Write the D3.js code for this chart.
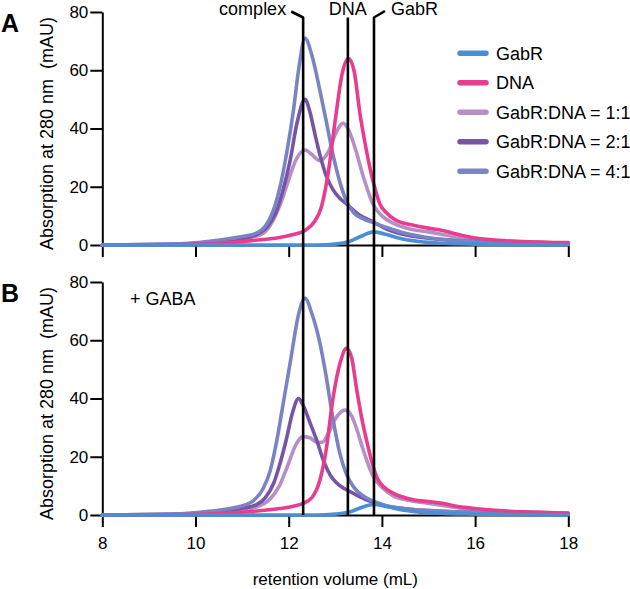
<!DOCTYPE html>
<html><head><meta charset="utf-8">
<script src="https://cdn.jsdelivr.net/npm/d3@7"></script>
<style>
body{margin:0;background:#fff}
text{font-family:"Liberation Sans",Arial,Helvetica,sans-serif;fill:#000}
</style>
</head><body>
<svg id="chart" width="630" height="589"></svg>
<script>
// ---------------- data ----------------
const xTicks = [8, 10, 12, 14, 16, 18];
const yTicks = [0, 20, 40, 60, 80];
const seriesNames = ["GabR", "DNA", "GabR:DNA = 1:1", "GabR:DNA = 2:1", "GabR:DNA = 4:1"];
const seriesColors = ["#4A8FD4", "#E83C8E", "#B68FC6", "#7754A5", "#7A84C4"];
const markerLabels = ["complex", "DNA", "GabR"];
const markerVolumes = [12.31, 13.27, 13.83];
const panelLetters = ["A", "B"];
const panelNotes = ["", "+ GABA"];

// panel A (no GABA): [retention volume mL, absorption mAU]
const gabrA = [[8,0],[12.6,0],[13.0,0.3],[13.3,1.2],[13.55,3],[13.83,4.5],[14.1,3.6],[14.4,2.2],[14.8,1.2],[15.3,0.6],[16,0.3],[17,0.15],[18,0.1]];
const dnaA = [[8,0],[9.5,0.1],[10.5,0.6],[11.2,1.5],[11.8,2.6],[12.1,3.6],[12.35,5],[12.55,8],[12.7,13],[12.85,25],[13.0,43],[13.15,59],[13.28,64],[13.4,60],[13.53,45],[13.65,34],[13.75,26],[13.85,19.5],[13.96,14],[14.1,11],[14.3,8.5],[14.6,7],[15.0,5.8],[15.3,5],[15.6,3.8],[16.0,2.4],[16.5,1.6],[17,1.2],[18,0.8]];
const r11A = [[8,0],[9.5,0.2],[10.3,0.8],[11.0,2],[11.45,4],[11.65,8],[11.82,14],[11.97,21],[12.15,29],[12.35,32.6],[12.5,31],[12.67,29],[12.85,32],[13.0,38],[13.17,41.8],[13.3,39],[13.45,32],[13.6,23.5],[13.81,14],[14.0,10],[14.24,7.5],[14.6,5.5],[15,4.5],[15.5,3],[16,1.8],[17,1],[18,0.6]];
const r21A = [[8,0],[9.5,0.2],[10.3,1],[11.0,2.2],[11.3,3.5],[11.55,6.5],[11.72,11],[11.88,19],[12.03,29],[12.18,42],[12.35,50],[12.45,46],[12.55,39],[12.67,31],[12.8,24],[12.95,19],[13.1,16],[13.25,14],[13.5,10.5],[13.8,8],[14.1,5.5],[14.5,3.5],[15,2.3],[16,1.2],[17,0.7],[18,0.5]];
const r41A = [[8,0],[9.5,0.3],[10.3,1.3],[11.0,2.9],[11.3,4],[11.5,6.5],[11.65,11],[11.8,19],[11.95,31],[12.1,46],[12.22,61],[12.35,71],[12.5,65],[12.67,53],[12.8,43],[12.95,31],[13.1,21.5],[13.24,15],[13.4,11],[13.6,9],[13.85,7.5],[14.1,6],[14.5,4],[15,2.5],[16,1.2],[17,0.7],[18,0.5]];

// panel B (+ GABA)
const gabrB = [[8,0],[12.6,0],[13.0,0.3],[13.3,1],[13.55,2.5],[13.82,3.6],[14.1,2.9],[14.4,1.8],[14.8,1],[15.3,0.5],[16,0.3],[17,0.15],[18,0.1]];
const dnaB = [[8,0],[9.5,0.1],[10.5,0.5],[11.2,1.2],[11.8,2.2],[12.1,3],[12.31,4],[12.5,6],[12.67,12],[12.8,22],[12.95,40],[13.1,52],[13.24,57.2],[13.35,54],[13.46,43],[13.57,33],[13.67,25.7],[13.78,18.5],[13.89,13],[14.05,9.5],[14.25,7.4],[14.67,5.2],[15.0,4.6],[15.3,4],[15.6,3],[15.9,2.4],[16.5,1.5],[17,1.1],[18,0.7]];
const r11B = [[8,0],[9.5,0.2],[10.3,0.8],[11.0,1.8],[11.35,3],[11.6,5.5],[11.8,10],[11.98,17],[12.15,24],[12.31,26.9],[12.45,26.5],[12.6,25],[12.72,25],[12.85,28],[13.0,33],[13.21,36],[13.35,34],[13.47,29],[13.6,22.3],[13.82,13],[14.0,9.5],[14.25,6.5],[14.6,5],[15,4],[15.5,2.8],[16,1.8],[17,1],[18,0.6]];
const r21B = [[8,0],[9.5,0.2],[10.3,1],[11.0,2.3],[11.3,3.5],[11.5,6],[11.68,11],[11.82,18],[11.95,26],[12.08,35],[12.21,40],[12.3,38],[12.45,32],[12.6,25.7],[12.75,18.5],[12.9,13.5],[13.03,11],[13.2,9],[13.39,7.4],[13.7,5],[14.1,3],[14.6,2],[15,1.5],[16,0.8],[17,0.5],[18,0.4]];
const r41B = [[8,0],[9.5,0.3],[10.3,1.3],[10.95,2.9],[11.25,5],[11.45,9],[11.6,15],[11.75,26],[11.9,40],[12.05,54],[12.2,68],[12.35,74.4],[12.5,69],[12.67,59],[12.8,48],[12.95,33],[13.1,21],[13.24,14],[13.4,9.5],[13.6,6.5],[13.85,4.5],[14.1,3.2],[14.6,2],[15,1.5],[16,0.8],[17,0.5],[18,0.4]];

const panelSeries = [
  [gabrA, dnaA, r11A, r21A, r41A],
  [gabrB, dnaB, r11B, r21B, r41B]
];
const drawOrder = [2, 3, 4, 1, 0];

// ---------------- layout ----------------
const svg = d3.select("#chart");
const x = d3.scaleLinear().domain([8, 18]).range([102.3, 568.3]);
const panelBox = [{top: 12, bottom: 245}, {top: 282, bottom: 515}];

panelBox.forEach((pb, pi) => {
  const y = d3.scaleLinear().domain([0, 80]).range([pb.bottom, pb.top]);
  const g = svg.append("g");

  const ya = g.append("g").attr("transform", `translate(${x(8)},0)`)
    .call(d3.axisLeft(y).tickValues(yTicks).tickSize(12).tickPadding(2).tickSizeOuter(0));
  const xa = g.append("g").attr("transform", `translate(0,${pb.bottom})`)
    .call(d3.axisBottom(x).tickValues(xTicks).tickSize(12).tickPadding(10).tickSizeOuter(0)
      .tickFormat(pi === 0 ? () => "" : d3.format("d")));
  [ya, xa].forEach(a => {
    a.select(".domain").attr("stroke", "#000").attr("stroke-width", 2);
    a.selectAll(".tick line").attr("stroke", "#000").attr("stroke-width", 2);
    a.selectAll(".tick text").attr("font-size", 17).attr("font-family", '"Liberation Sans",Arial,sans-serif').attr("fill", "#000");
  });

  g.append("text")
    .attr("transform", `translate(53,${(pb.top + pb.bottom) / 2 + 5}) rotate(-90)`)
    .attr("text-anchor", "middle").attr("font-size", 18)
    .text("Absorption at 280 nm \u00a0(mAU)");

  g.append("text").attr("x", 1).attr("y", pb.top + 20)
    .attr("font-size", 25).attr("font-weight", "bold").text(panelLetters[pi]);
  if (panelNotes[pi]) {
    g.append("text").attr("x", 130).attr("y", pb.top + 23).attr("font-size", 18).text(panelNotes[pi]);
  }

  const line = d3.line().x(d => x(d[0])).y(d => y(d[1])).curve(d3.curveMonotoneX);
  drawOrder.forEach(si => {
    g.append("path").datum(panelSeries[pi][si])
      .attr("d", line).attr("fill", "none")
      .attr("stroke", seriesColors[si]).attr("stroke-width", 3.6)
      .attr("stroke-linejoin", "round").attr("stroke-linecap", "round");
  });
});

svg.append("text").attr("x", (x(8) + x(18)) / 2).attr("y", 585)
  .attr("text-anchor", "middle").attr("font-size", 17).text("retention volume (mL)");

seriesNames.forEach((name, i) => {
  const ly = 53.3 + i * 29.5;
  svg.append("line").attr("x1", 460).attr("x2", 486).attr("y1", ly).attr("y2", ly)
    .attr("stroke", seriesColors[i]).attr("stroke-width", 5.5).attr("stroke-linecap", "round");
  svg.append("text").attr("x", 496).attr("y", ly + 6.5).attr("font-size", 18).text(name);
});

const bottomY = panelBox[1].bottom;
markerVolumes.forEach((v, i) => {
  const mx = x(v);
  let d, tx, anchor;
  if (i === 0) { d = `M${mx - 12},11.5 L${mx},17.5 V${bottomY}`; tx = mx - 17; anchor = "end"; }
  else if (i === 1) { d = `M${mx},17.5 V${bottomY}`; tx = mx; anchor = "middle"; }
  else { d = `M${mx + 11},11 L${mx},17.5 V${bottomY}`; tx = mx + 17; anchor = "start"; }
  svg.append("path").attr("d", d).attr("fill", "none").attr("stroke", "#000")
    .attr("stroke-width", 2.6).attr("stroke-linejoin", "round");
  svg.append("text").attr("x", tx).attr("y", 14.5).attr("text-anchor", anchor)
    .attr("font-size", 18).text(markerLabels[i]);
});
</script>
</body></html>
